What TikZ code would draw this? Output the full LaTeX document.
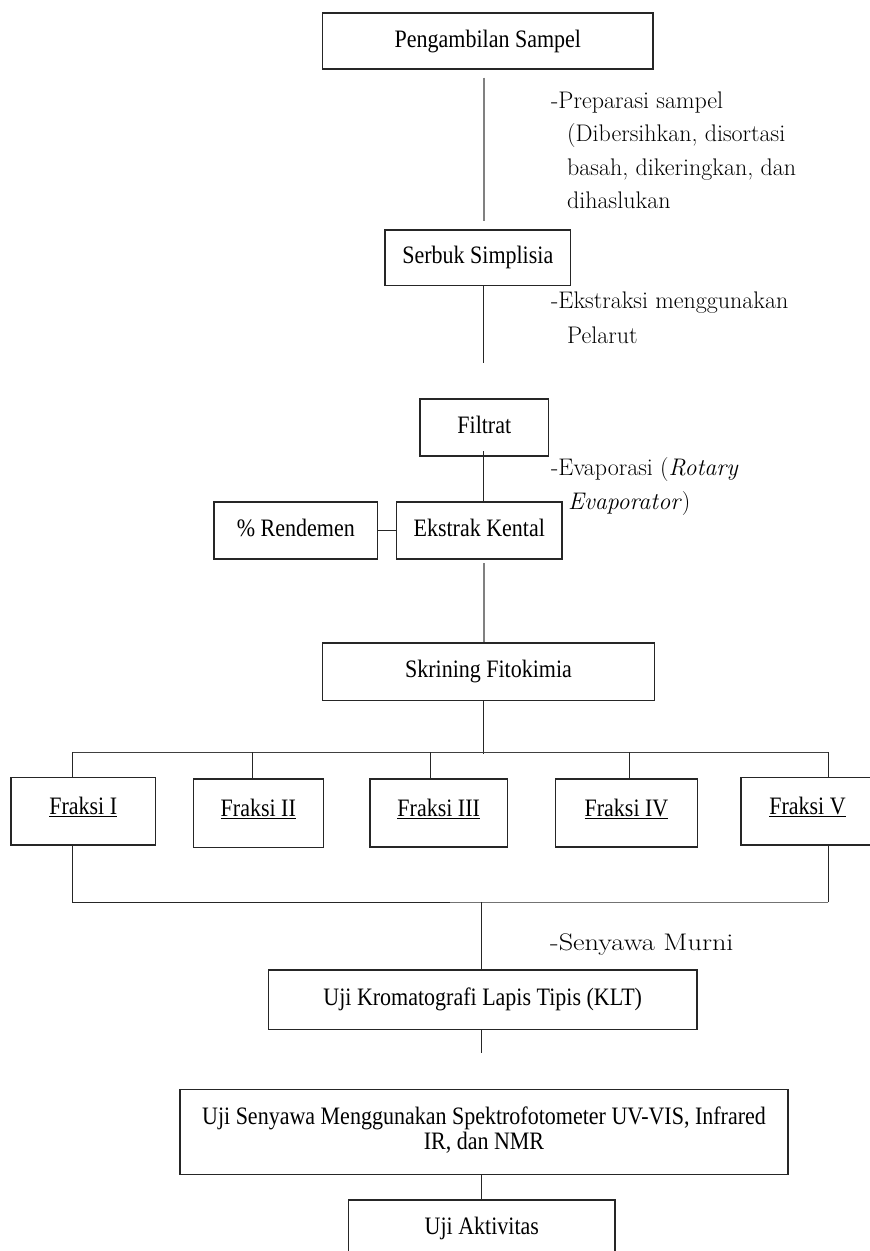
\documentclass[tikz,border=0pt]{standalone}
\usepackage{fontspec}
\usepackage{graphicx}
\newfontfamily\bxfont{Liberation Serif}
\usetikzlibrary{calc}
\newcommand\bt[1]{\scalebox{1}[1.14]{\bxfont\fontsize{22}{22}\selectfont #1}}
\tikzset{
  box/.style={draw=black!85, line width=1.4pt, inner sep=0pt, text height=16pt, text depth=4pt},
  fbox/.style={box, text height=12pt, text depth=6pt},
  ann/.style={anchor=base west, inner sep=0pt, font=\fontsize{24}{33}\selectfont},
  conn/.style={line width=1.1pt, draw=black!85},
  grayconn/.style={line width=1.4pt, draw=black!50},
}
\begin{document}
\begin{tikzpicture}[x=1pt,y=-1pt]
\useasboundingbox (0,0) rectangle (870,1251);
\fill[white] (0,0) rectangle (870,1251);
\clip (0,0) rectangle (870,1251);

% boxes
\node[box, minimum width=330.3pt, minimum height=56pt] (pa) at (487.9,41) {\bt{Pengambilan Sampel}};
\node[box, minimum width=185.7pt, minimum height=55.7pt] (ss) at (477.8,257.9) {\bt{Serbuk Simplisia}};
\node[box, minimum width=128.7pt, minimum height=57pt] (ft) at (484.3,427.5) {\bt{Filtrat}};
\node[box, minimum width=163.7pt, minimum height=57pt] (rd) at (295.8,530.5) {\bt{\% Rendemen}};
\node[box, minimum width=165.3pt, minimum height=57pt] (ek) at (479.3,530.5) {\bt{Ekstrak Kental}};
\node[box, minimum width=331.6pt, minimum height=57.7pt] (sk) at (488.5,671.8) {\bt{Skrining Fitokimia}};
\node[fbox, minimum width=144.3pt, minimum height=67.3pt] (f1) at (83.2,811.3) {\bt{\underline{Fraksi I}}};
\node[fbox, minimum width=130pt, minimum height=68.3pt] (f2) at (258.3,813.1) {\bt{\underline{Fraksi II}}};
\node[fbox, minimum width=137.3pt, minimum height=68pt] (f3) at (438.7,813) {\bt{\underline{Fraksi III}}};
\node[fbox, minimum width=141.6pt, minimum height=68pt] (f4) at (626.5,813) {\bt{\underline{Fraksi IV}}};
\node[fbox, minimum width=133pt, minimum height=67.3pt] (f5) at (807.5,811.3) {\bt{\underline{Fraksi V}}};
\node[box, minimum width=428.7pt, minimum height=59.3pt] (klt) at (482.7,999.7) {\bt{Uji Kromatografi Lapis Tipis (KLT)}};
\node[draw=black!85, line width=1.4pt, inner sep=0pt, minimum width=608pt, minimum height=85pt] (us) at (484,1131.8)
  {\bt{\begin{tabular}{@{}c@{}}Uji Senyawa Menggunakan Spektrofotometer UV-VIS, Infrared\\ IR, dan NMR\end{tabular}}};
\node[box, minimum width=266.3pt, minimum height=57pt] (ua) at (481.8,1228.5) {\bt{Uji Aktivitas}};

% annotations
\node[ann] (a1) at (551,108.3) {-Preparasi sampel};
\node[ann] (a2) at (567,141.7) {(Dibersihkan, disortasi};
\node[ann] (a3) at (567,175) {basah, dikeringkan, dan};
\node[ann] (a4) at (567,208.3) {dihaslukan};
\node[ann] (b1) at (551,308.3) {-Ekstraksi menggunakan};
\node[ann] (b2) at (567,343.3) {Pelarut};
\node[ann] (c1) at (551,475.7) {-Evaporasi (\textit{Rotary}};
\node[ann] (c2) at (568,509.3) {\textit{Evaporator})};
\node[ann] (sm) at (550,950.7) {\scalebox{1.18}[1]{-Senyawa Murni}};

% connector coordinates
\coordinate (sEnd) at (483.3,363);
\coordinate (fTop) at (483.7,451);
\coordinate (eTop) at (484,563);
\coordinate (d1) at (72.7,752.3);
\coordinate (d2) at (252.3,752.3);
\coordinate (d3) at (430.7,752.3);
\coordinate (dj) at (483.3,754);
\coordinate (d4) at (629.3,752.3);
\coordinate (d5) at (828.3,752.3);
\coordinate (e1) at (72.7,902.3);
\coordinate (em) at (450,902.3);
\coordinate (e5) at (828.3,902.3);
\coordinate (ej) at (481.7,902.3);
\coordinate (kEnd) at (481.7,1053);

% connectors
\draw[grayconn] ($(pa.south)+(-3.9,8)$) -- ($(ss.north)+(6.2,-8)$);
\draw[conn] (ss.south -| sEnd) -- (sEnd);
\draw[conn] (fTop) -- (fTop |- ek.north);
\draw[conn] (rd.east) -- (ek.west);
\draw[grayconn, line width=1.2pt] (eTop) -- (eTop |- sk.north);
\draw[conn] (dj |- sk.south) -- (dj);
\draw[conn, draw=black!75] (d1) -- (d5);
\draw[conn] (d1) -- (d1 |- f1.north);
\draw[conn] (d2) -- (d2 |- f2.north);
\draw[conn] (d3) -- (d3 |- f3.north);
\draw[conn] (d4) -- (d4 |- f4.north);
\draw[conn] (d5) -- (d5 |- f5.north);
\draw[conn] (d1 |- f1.south) -- (e1) -- (em);
\draw[conn, draw=black!55] (em) -- (e5);
\draw[conn] (e5) -- (d5 |- f5.south);
\draw[conn] (ej) -- (klt.north -| ej);
\draw[conn] (klt.south -| kEnd) -- (kEnd);
\draw[conn] (us.south -| ua.north) -- (ua.north);
\end{tikzpicture}
\end{document}
